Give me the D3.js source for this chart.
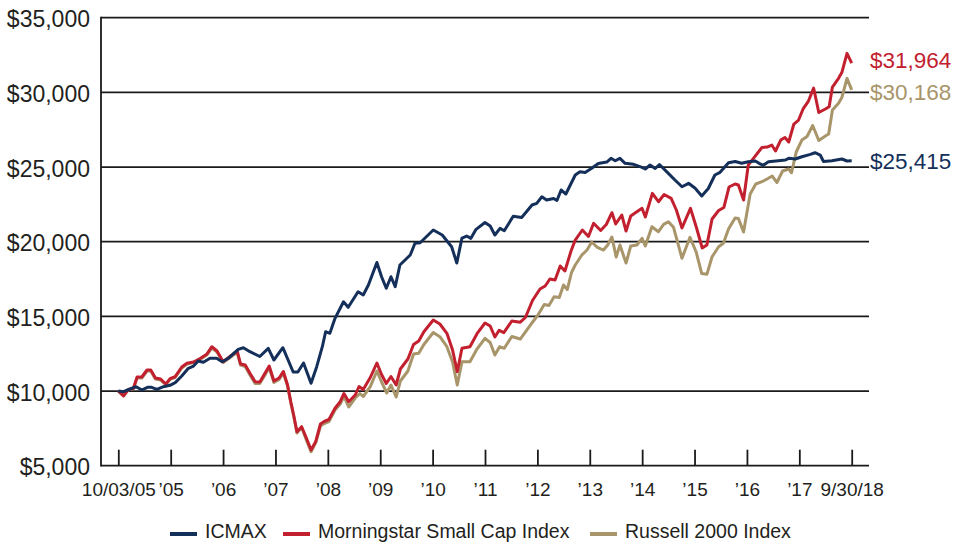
<!DOCTYPE html>
<html><head><meta charset="utf-8">
<script src="https://cdn.jsdelivr.net/npm/d3@7"></script>
<style>
body{margin:0;background:#fff}
svg{display:block}
text{font-family:"Liberation Sans",Arial,Helvetica,sans-serif;fill:#231f20}
</style>
</head><body>
<svg id="chart" width="954" height="546"></svg>
<script>
// ---- data (months since 10/03/05, growth of $10,000) ----
const xTickLabels = ["10/03/05","\u201905","\u201906","\u201907","\u201908","\u201909","\u201910","\u201911","\u201912","\u201913","\u201914","\u201915","\u201916","\u201917","9/30/18"];
const yTickValues = [5000,10000,15000,20000,25000,30000,35000];
const totalMonths = 156;

const icmaxMonths = [0,1.1,2.5,3.8,5.0,6.2,7.1,8.2,9.6,11.0,12.1,13.5,14.9,16.0,17.0,18.1,19.5,20.9,22.1,23.4,25.5,26.6,28.0,30.1,31.9,33.1,35.0,37.2,38.2,39.4,41.0,42.2,43.4,44.1,45.0,46.1,47.9,48.9,51.0,52.1,53.2,55.0,56.0,57.0,58.0,58.9,59.9,62.1,63.1,64.2,67.0,68.9,70.9,72.0,73.1,74.1,75.0,76.1,78.0,79.1,80.1,81.2,82.1,84.0,85.8,88.0,89.0,90.1,91.1,92.6,93.3,94.2,95.2,97.2,98.2,99.3,100.7,102.1,103.9,104.8,105.7,106.7,107.8,109.6,111.4,112.1,113.1,114.2,115.1,117.0,118.4,119.9,121.3,122.7,124.1,125.5,126.9,128.0,129.8,131.2,132.6,134.0,135.5,136.3,137.2,138.3,140.4,141.9,142.6,144.0,145.4,147.2,148.2,149.3,150.0,151.8,153.9,155.0,156];
const icmaxValues = [10000,9955,10136,10290,10069,10250,10250,10116,10290,10384,10558,11006,11522,11676,12011,11924,12192,12192,11964,12192,12794,12901,12633,12312,12861,12078,12901,11274,11274,11877,10518,11629,12968,13973,13866,14870,15981,15607,16651,16430,17100,18606,17655,16879,17655,16986,18439,19108,19892,19932,20783,20448,19664,18573,20247,20381,20227,20829,21285,21050,20448,20896,20736,21700,21620,22457,22570,23012,22791,22892,22758,23461,23193,24465,24686,24633,24914,25235,25336,25584,25423,25584,25249,25182,24981,24867,25135,24901,25168,24579,24131,23682,23910,23575,23059,23561,24465,24646,25289,25369,25249,25356,25403,25249,25115,25356,25423,25470,25584,25537,25691,25851,25958,25805,25369,25423,25537,25403,25415];

const msciMonths = [0,1.1,2.1,3.2,4.0,5.0,6.1,6.9,7.9,9.0,10.1,11.1,12.1,13.5,14.6,16.0,17.4,18.8,19.9,21.0,22.3,23.6,24.6,25.3,26.0,27.0,28.0,29.1,30.1,31.2,32.1,33.1,34.2,35.1,36.0,36.7,37.3,38.0,39.0,40.0,41.0,42.0,43.0,43.8,44.8,46.1,47.2,48.0,49.0,50.4,51.2,52.1,53.6,55.0,56.0,57.0,58.0,59.1,60.0,61.6,62.8,63.9,65.0,67.0,68.4,69.9,71.1,72.1,73.1,74.8,76.3,78.0,79.1,80.1,81.0,82.0,83.7,85.5,86.6,88.1,89.7,90.8,91.8,92.9,94.0,95.0,96.3,97.2,98.7,100.0,101.1,102.6,103.8,105.0,105.8,107.1,108.0,109.0,110.3,111.4,112.1,113.6,114.9,116.1,117.6,118.7,119.9,121.7,123.0,124.2,125.2,126.3,127.7,128.8,129.9,131.2,131.9,133.0,134.0,135.1,136.9,138.0,139.0,139.8,140.9,141.8,142.6,143.7,144.7,145.7,146.8,147.9,149.0,150.4,151.2,151.9,153.2,153.9,155.0,156];
const msciValues = [10000,9667,10102,10169,10940,10940,11408,11408,10872,10806,10471,10852,10959,11609,11857,11944,12178,12459,12968,12680,11964,12279,12513,12680,11810,11743,11187,10625,10605,11187,11676,10671,10872,11308,10404,9265,8395,7277,7611,6855,6051,6620,7792,7960,8094,8844,9285,9835,9285,9734,10303,10102,10906,11877,11107,10504,10973,10404,11475,12145,13116,13350,13973,14756,14488,13866,12747,11294,12861,12968,13839,14555,14354,13618,14066,13906,14689,14609,14924,16062,16832,17033,17502,17435,18372,18037,19376,20113,20783,20347,21231,20749,21151,21941,21184,21787,20716,21720,22008,22236,21653,23240,22677,23160,22905,22122,20916,22236,20916,19577,19778,21519,22088,22289,23662,23863,23796,22791,25135,25584,26307,26340,26474,26073,26809,26977,26675,27880,28148,28918,29420,30291,28650,28885,29039,30358,30940,31329,32614,31964];

const russellMonths = [0,1.1,2.1,3.2,4.0,5.0,6.1,6.9,7.9,9.0,10.1,11.1,12.1,13.5,14.6,16.0,17.4,18.8,19.9,21.0,22.3,23.6,24.6,25.3,26.0,27.0,28.0,29.1,30.1,31.2,32.1,33.1,34.2,35.1,36.0,36.7,37.3,38.0,39.0,40.0,41.0,42.0,43.0,43.8,44.8,46.1,47.2,48.0,49.0,50.4,51.4,52.1,53.6,55.0,56.0,57.1,58.0,59.1,60.0,61.6,62.8,63.9,65.0,67.0,68.4,69.9,71.1,72.1,73.1,74.8,76.3,78.0,79.1,80.1,81.1,82.1,83.7,85.5,87.8,89.2,90.6,91.6,92.7,93.8,94.7,95.5,96.4,97.2,98.6,99.7,100.7,101.8,103.2,104.1,105.0,105.9,106.7,108.0,109.0,110.3,111.4,112.1,113.5,114.9,116.0,117.0,118.1,119.9,121.6,122.9,124.1,125.2,126.3,127.7,128.7,129.8,131.2,131.9,133.0,134.4,135.6,136.9,138.0,139.1,140.1,141.3,142.6,143.2,144.2,145.4,146.5,147.7,149.0,150.4,151.1,151.9,153.2,153.9,155.0,156];
const russellValues = [10000,9701,10069,10169,10872,10872,11341,11341,10806,10739,10437,10806,10906,11542,11810,11910,12111,12413,12881,12613,11910,12212,12446,12546,11743,11642,11073,10504,10504,11073,11576,10571,10772,11241,10337,9198,8328,7190,7558,6721,5937,6553,7658,7826,7960,8730,9131,9634,8931,9533,9835,9634,10290,11341,10605,9868,10404,9600,10671,11341,12479,12526,13116,13919,13638,12968,11944,10404,11964,11964,12814,13531,13250,12413,12968,12861,13651,13484,14488,15057,15794,15727,16316,16263,17100,16798,17937,18439,19108,19443,19979,19644,19443,19778,20314,18975,19778,18573,19711,19778,20227,19711,21003,20669,21164,21338,20963,18887,20294,19329,17870,17816,18995,19664,19892,20849,21586,21553,20649,23193,23863,24017,24197,24398,23963,24733,24867,24619,26006,26809,27043,27780,26776,27077,27211,28818,29266,29655,30940,30168];

const seriesNames = ["ICMAX","Morningstar Small Cap Index","Russell 2000 Index"];
const seriesColors = ["#14305a","#c2202f","#a8956a"];
const endLabels = ["$25,415","$31,964","$30,168"];

// ---- drawing ----
const svg = d3.select("#chart");
const plotLeft = 101, plotRight = 869;
const x = d3.scaleLinear().domain([0,totalMonths]).range([118.3,851.7]);
const y = d3.scaleLinear().domain([5000,35000]).range([465.7,17.7]);
const fmt = v => "$" + d3.format(",")(v);

// gridlines
svg.append("g").selectAll("line").data(yTickValues.filter(v=>v>5000)).join("line")
  .attr("x1",plotLeft).attr("x2",plotRight)
  .attr("y1",d=>y(d)).attr("y2",d=>y(d))
  .attr("stroke","#1a1a1a").attr("stroke-width",1.8);

// axis lines
svg.append("line").attr("x1",plotLeft).attr("x2",plotLeft).attr("y1",y(35000)-0.9).attr("y2",y(5000)+0.9)
  .attr("stroke","#1a1a1a").attr("stroke-width",1.8);
svg.append("line").attr("x1",plotLeft).attr("x2",plotRight).attr("y1",y(5000)).attr("y2",y(5000))
  .attr("stroke","#1a1a1a").attr("stroke-width",1.8);

// y axis labels
const yAxis = d3.axisLeft(y).tickValues(yTickValues).tickSize(0).tickPadding(11).tickFormat(fmt);
const gy = svg.append("g").attr("transform",`translate(${plotLeft},0)`).call(yAxis);
gy.select(".domain").remove();
gy.selectAll("text").attr("font-size",23).attr("dy","0.39em").attr("fill","#231f20")
  .style("font-family","'Liberation Sans',Arial,sans-serif");

// x axis ticks & labels
const xTickVals = d3.range(xTickLabels.length).map(i => i*totalMonths/(xTickLabels.length-1));
const xAxis = d3.axisBottom(x).tickValues(xTickVals).tickSizeInner(-16).tickSizeOuter(0).tickPadding(17)
  .tickFormat((d,i)=>xTickLabels[i]);
const gx = svg.append("g").attr("transform",`translate(0,${y(5000)})`).call(xAxis);
gx.select(".domain").remove();
gx.selectAll(".tick line").attr("stroke","#1a1a1a").attr("stroke-width",1.8);
gx.selectAll("text").attr("font-size",19).attr("fill","#231f20")
  .style("font-family","'Liberation Sans',Arial,sans-serif");

// lines
const series = [
  {months: icmaxMonths, values: icmaxValues},
  {months: msciMonths, values: msciValues},
  {months: russellMonths, values: russellValues}
];
const line = d3.line().x(d=>x(d[0])).y(d=>y(d[1]));
[2,1,0].forEach(i=>{
  const pts = series[i].months.map((m,j)=>[m, series[i].values[j]]);
  svg.append("path").datum(pts).attr("d",line)
    .attr("fill","none").attr("stroke",seriesColors[i]).attr("stroke-width",3)
    .attr("stroke-linejoin","round");
});

// end labels
const endValues = [icmaxValues[icmaxValues.length-1], msciValues[msciValues.length-1], russellValues[russellValues.length-1]];
const endLabelY = [y(endValues[0]), 60, 92];
endLabels.forEach((t,i)=>{
  svg.append("text").attr("x",870).attr("y",endLabelY[i]).attr("dy","0.36em")
    .attr("font-size",22.5).style("fill",seriesColors[i]).text(t);
});

// legend
const legendX = [170, 283, 590];
const legendY = 534;
seriesNames.forEach((n,i)=>{
  svg.append("line").attr("x1",legendX[i]).attr("x2",legendX[i]+27)
    .attr("y1",legendY).attr("y2",legendY).attr("stroke",seriesColors[i]).attr("stroke-width",4);
  svg.append("text").attr("x",legendX[i]+35).attr("y",legendY+4).attr("font-size",19.5).text(n);
});
</script>
</body></html>
